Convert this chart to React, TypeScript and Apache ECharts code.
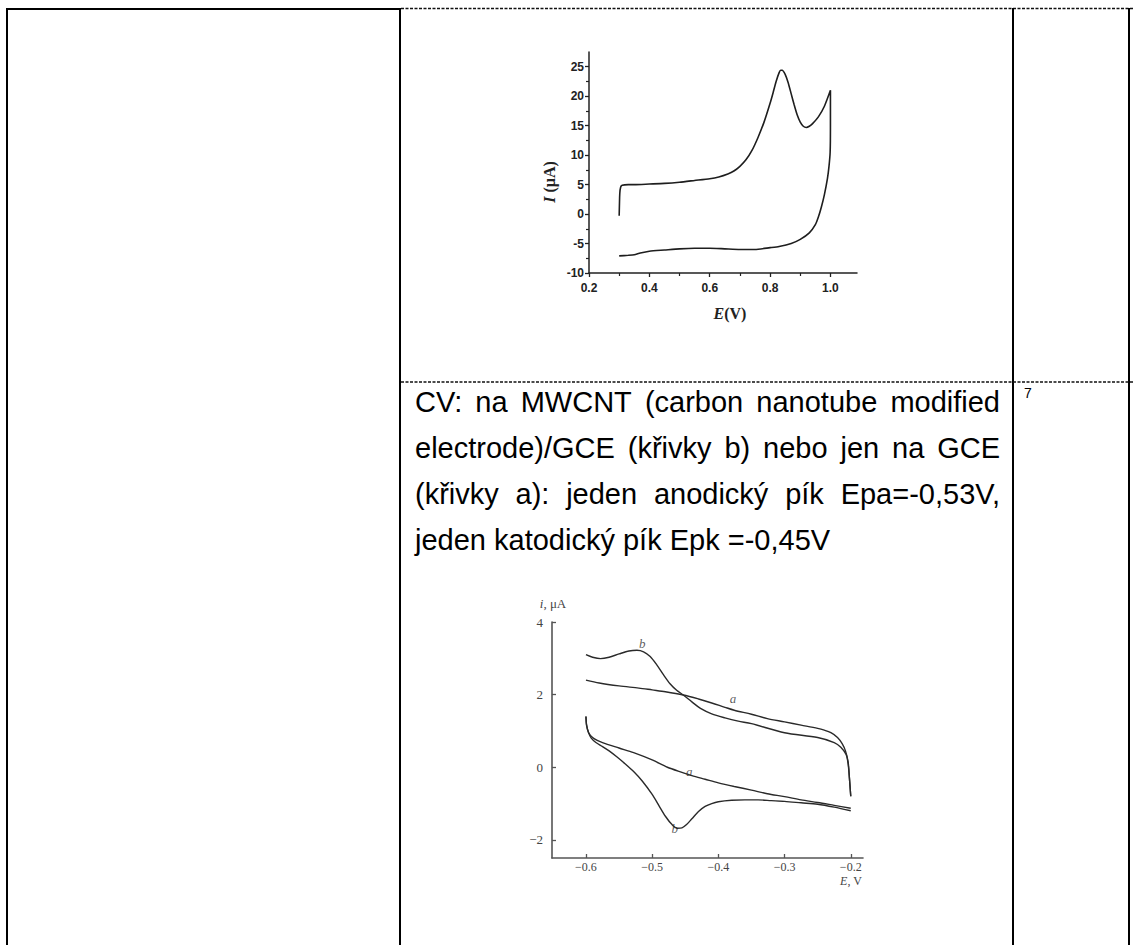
import React, { useEffect, useRef } from "react";
import * as echarts from "echarts";

// ---------- Chart 1 data (E / V, I / µA) ----------
const cv1Forward: number[][] = [
  [0.3, -0.3], [0.302, 3.5], [0.305, 4.6], [0.31, 4.9], [0.33, 5.0], [0.35, 5.0],
  [0.4, 5.1], [0.45, 5.2], [0.5, 5.4], [0.55, 5.7], [0.6, 6.0], [0.63, 6.3],
  [0.66, 6.8], [0.68, 7.3], [0.7, 8.1], [0.72, 9.2], [0.74, 10.8], [0.76, 13.0],
  [0.78, 15.6], [0.8, 18.8], [0.81, 20.6], [0.82, 22.5], [0.83, 24.0], [0.835, 24.4],
  [0.84, 24.4], [0.85, 23.7], [0.86, 22.3], [0.87, 20.4], [0.88, 18.5], [0.89, 16.8],
  [0.9, 15.6], [0.91, 14.9], [0.92, 14.7], [0.93, 14.9], [0.94, 15.3], [0.96, 16.5],
  [0.98, 18.3], [1.0, 21.0],
];
const cv1Reverse: number[][] = [
  [1.0, 15.0], [0.999, 10.5], [0.995, 8.0], [0.99, 6.0], [0.98, 3.3], [0.97, 1.2],
  [0.96, -0.5], [0.95, -1.8], [0.93, -3.2], [0.9, -4.3], [0.87, -5.0], [0.83, -5.5],
  [0.8, -5.7], [0.75, -6.0], [0.7, -6.0], [0.65, -5.9], [0.6, -5.8], [0.55, -5.8],
  [0.5, -5.9], [0.45, -6.1], [0.4, -6.3], [0.37, -6.6], [0.35, -6.9], [0.33, -7.0],
  [0.3, -7.1],
];
const cv1XTicks = [0.2, 0.4, 0.6, 0.8, 1.0];
const cv1XMinor = [0.3, 0.5, 0.7, 0.9];
const cv1YTicks = [-10, -5, 0, 5, 10, 15, 20, 25];
const cv1YMinor = [-7.5, -2.5, 2.5, 7.5, 12.5, 17.5, 22.5];

// ---------- Chart 2 data (E / V, i / µA) ----------
const cv2UpperB: number[][] = [
  [-0.6, 3.1], [-0.59, 3.03], [-0.578, 2.99], [-0.565, 3.03], [-0.55, 3.12],
  [-0.535, 3.2], [-0.523, 3.22], [-0.513, 3.18], [-0.503, 3.05], [-0.493, 2.82],
  [-0.483, 2.55], [-0.473, 2.3], [-0.463, 2.12], [-0.453, 1.99], [-0.44, 1.8],
  [-0.427, 1.62], [-0.41, 1.47], [-0.39, 1.36], [-0.37, 1.27], [-0.35, 1.2],
  [-0.3, 0.95], [-0.25, 0.82], [-0.225, 0.68], [-0.215, 0.55], [-0.207, 0.35],
  [-0.204, 0.1], [-0.202, -0.3], [-0.2, -0.8],
];
const cv2UpperA: number[][] = [
  [-0.6, 2.4], [-0.58, 2.32], [-0.55, 2.24], [-0.52, 2.18], [-0.5, 2.13],
  [-0.48, 2.08], [-0.453, 1.99], [-0.43, 1.88], [-0.41, 1.77], [-0.39, 1.65],
  [-0.376, 1.57], [-0.35, 1.46], [-0.326, 1.34], [-0.3, 1.25], [-0.275, 1.16],
  [-0.25, 1.07], [-0.24, 1.02], [-0.23, 0.95], [-0.22, 0.82], [-0.213, 0.65],
  [-0.208, 0.45], [-0.204, 0.15], [-0.202, -0.3], [-0.2, -0.8],
];
const cv2LowerA: number[][] = [
  [-0.6, 1.4], [-0.599, 1.15], [-0.596, 0.95], [-0.59, 0.82], [-0.583, 0.74],
  [-0.575, 0.68], [-0.55, 0.53], [-0.528, 0.4], [-0.5, 0.2], [-0.477, 0.0],
  [-0.455, -0.14], [-0.44, -0.23], [-0.42, -0.33], [-0.4, -0.43], [-0.376, -0.53],
  [-0.35, -0.63], [-0.326, -0.73], [-0.3, -0.81], [-0.275, -0.9], [-0.25, -0.97],
  [-0.225, -1.05], [-0.2, -1.13],
];
const cv2LowerB: number[][] = [
  [-0.6, 1.4], [-0.599, 1.15], [-0.596, 0.95], [-0.592, 0.8], [-0.585, 0.68],
  [-0.575, 0.57], [-0.565, 0.45], [-0.553, 0.28], [-0.54, 0.08], [-0.528, -0.12],
  [-0.515, -0.38], [-0.5, -0.75], [-0.49, -1.05], [-0.48, -1.35], [-0.47, -1.58],
  [-0.462, -1.68], [-0.455, -1.67], [-0.448, -1.58], [-0.44, -1.42], [-0.43, -1.22],
  [-0.42, -1.08], [-0.41, -1.0], [-0.4, -0.95], [-0.38, -0.91], [-0.36, -0.9],
  [-0.34, -0.9], [-0.32, -0.92], [-0.3, -0.94], [-0.275, -0.98], [-0.25, -1.02],
  [-0.225, -1.1], [-0.2, -1.2],
];
const cv2XTicks = [-0.6, -0.5, -0.4, -0.3, -0.2];
const cv2YTicks = [-2, 0, 2, 4];
const cv2CurveLabels: (string | number)[][] = [
  [-0.515, 3.42, "b"],
  [-0.378, 1.9, "a"],
  [-0.444, -0.12, "a"],
  [-0.466, -1.7, "b"],
];

// ---------- Document text ----------
const paragraphLines = [
  "CV: na MWCNT (carbon nanotube modified",
  "electrode)/GCE (křivky b) nebo jen na GCE",
  "(křivky a): jeden anodický pík Epa=-0,53V,",
  "jeden katodický pík Epk =-0,45V",
];
const footnoteNumber = "7";

const W = 1133;
const H = 945;
const PARA_FONT = 29;
const PARA_LEFT = 415;
const PARA_RIGHT = 1000;
const PARA_TOP = 402;
const PARA_STEP = 46;

const minus = (v: number) => String(v).replace("-", "\u2212");

function paragraphGraphics() {
  const canvas = document.createElement("canvas");
  const ctx = canvas.getContext("2d")!;
  const font = `${PARA_FONT}px "Liberation Sans", Arial, sans-serif`;
  ctx.font = font;
  const els: any[] = [];
  paragraphLines.forEach((line, li) => {
    const words = line.split(" ");
    const widths = words.map((w) => ctx.measureText(w).width);
    const total = widths.reduce((a, b) => a + b, 0);
    const last = li === paragraphLines.length - 1;
    const gap = last
      ? ctx.measureText(" ").width
      : (PARA_RIGHT - PARA_LEFT - total) / (words.length - 1);
    let x = PARA_LEFT;
    words.forEach((w, wi) => {
      els.push({
        type: "text",
        silent: true,
        style: {
          text: w,
          x,
          y: PARA_TOP + li * PARA_STEP,
          font,
          fill: "#000",
          align: "left",
          verticalAlign: "middle",
        },
      });
      x += widths[wi] + gap;
    });
  });
  return els;
}

function tableGraphics() {
  const solid = { stroke: "#000", lineWidth: 2 };
  const dashed = { stroke: "#111", lineWidth: 1.3, lineDash: [3, 1.5] };
  const ln = (x1: number, y1: number, x2: number, y2: number, style: any) => ({
    type: "line",
    silent: true,
    shape: { x1, y1, x2, y2 },
    style,
  });
  return [
    ln(6, 9, 401, 9, solid),
    ln(7, 8, 7, H, solid),
    ln(400, 8, 400, H, solid),
    ln(401, 8.5, W, 8.5, dashed),
    ln(1013, 8, 1013, H, solid),
    ln(1129, 8, 1129, H, solid),
    ln(401, 382, W, 382, dashed),
  ];
}

export default function App() {
  const ref = useRef<HTMLDivElement>(null);
  useEffect(() => {
    if (!ref.current) return;
    const chart = echarts.init(ref.current, null, { renderer: "svg", width: W, height: H });

    const sansBold = {
      fontFamily: '"Liberation Sans", Arial, sans-serif',
      fontWeight: "bold" as const,
      fontSize: 12,
      color: "#222",
    };
    const serif = {
      fontFamily: '"Liberation Serif", "Times New Roman", serif',
      fontSize: 13,
      color: "#444",
    };
    const ax1Line = { show: true, onZero: false, lineStyle: { color: "#222", width: 1.5 } };
    const ax2Line = { show: true, onZero: false, lineStyle: { color: "#555", width: 1.6 } };

    const option: any = {
      animation: false,
      backgroundColor: "#fff",
      grid: [
        { left: 589, top: 52, width: 268, height: 221, containLabel: false, outerBoundsMode: "none" },
        { left: 552, top: 622, width: 311, height: 236, containLabel: false, outerBoundsMode: "none" },
      ],
      xAxis: [
        {
          type: "value", gridIndex: 0, position: "bottom", min: 0.2, max: 1.088,
          axisLine: ax1Line,
          axisTick: { show: true, customValues: cv1XTicks, length: 4, inside: false, lineStyle: { color: "#222", width: 1.3 } },
          axisLabel: { customValues: cv1XTicks, margin: 9, formatter: (v: number) => v.toFixed(1), ...sansBold },
          splitLine: { show: false },
        },
        {
          type: "value", gridIndex: 0, position: "bottom", min: 0.2, max: 1.088,
          axisLine: { show: false, onZero: false },
          axisTick: { show: true, customValues: cv1XMinor, length: 3, inside: false, lineStyle: { color: "#222", width: 1.2 } },
          axisLabel: { show: false },
          splitLine: { show: false },
        },
        {
          type: "value", gridIndex: 1, position: "bottom", min: -0.6513, max: -0.1815,
          axisLine: ax2Line,
          axisTick: { show: true, customValues: cv2XTicks, length: 4, inside: true, lineStyle: { color: "#555", width: 1.3 } },
          axisLabel: { customValues: cv2XTicks, margin: 3, formatter: (v: number) => minus(Number(v.toFixed(1))), ...serif, fontSize: 12 },
          splitLine: { show: false },
        },
      ],
      yAxis: [
        {
          type: "value", gridIndex: 0, position: "left", min: -10, max: 27.5,
          axisLine: ax1Line,
          axisTick: { show: true, customValues: cv1YTicks, length: 4, inside: false, lineStyle: { color: "#222", width: 1.3 } },
          axisLabel: { customValues: cv1YTicks, margin: 5, ...sansBold },
          splitLine: { show: false },
        },
        {
          type: "value", gridIndex: 0, position: "left", min: -10, max: 27.5,
          axisLine: { show: false, onZero: false },
          axisTick: { show: true, customValues: cv1YMinor, length: 3, inside: false, lineStyle: { color: "#222", width: 1.2 } },
          axisLabel: { show: false },
          splitLine: { show: false },
        },
        {
          type: "value", gridIndex: 1, position: "left", min: -2.5, max: 4,
          axisLine: ax2Line,
          axisTick: { show: true, customValues: cv2YTicks, length: 4, inside: true, lineStyle: { color: "#555", width: 1.3 } },
          axisLabel: { customValues: cv2YTicks, margin: 9, formatter: (v: number) => minus(v), ...serif },
          splitLine: { show: false },
        },
      ],
      series: [
        {
          type: "line", xAxisIndex: 0, yAxisIndex: 0, showSymbol: false, smooth: 0.2,
          data: cv1Forward.concat(cv1Reverse),
          lineStyle: { color: "#1e1e1e", width: 1.6 },
        },
        ...[cv2UpperB, cv2UpperA, cv2LowerA, cv2LowerB].map((d) => ({
          type: "line", xAxisIndex: 2, yAxisIndex: 2, showSymbol: false, smooth: 0.3,
          data: d,
          lineStyle: { color: "#2a2a2a", width: 1.4 },
        })),
        {
          type: "scatter", xAxisIndex: 2, yAxisIndex: 2, symbolSize: 0,
          data: cv2CurveLabels.map((p) => ({ value: [p[0], p[1]], name: p[2] })),
          label: {
            show: true, position: "inside", formatter: (p: any) => p.name,
            fontFamily: '"Liberation Serif", serif', fontStyle: "italic", fontSize: 13, color: "#333",
          },
        },
      ],
      graphic: [
        ...tableGraphics(),
        {
          type: "text", silent: true,
          style: {
            text: footnoteNumber, x: 1024, y: 386, font: '14px "Liberation Sans", Arial, sans-serif',
            fill: "#000", align: "left", verticalAlign: "top",
          },
        },
        ...paragraphGraphics(),
        {
          type: "text", silent: true, x: 549, y: 182, rotation: Math.PI / 2,
          style: {
            text: "{i|I} (μA)", x: 0, y: 0, align: "center", verticalAlign: "middle",
            font: 'bold 16px "Liberation Serif", serif', fill: "#222",
            rich: { i: { fontStyle: "italic", fontWeight: "bold", fontSize: 16, fontFamily: '"Liberation Serif", serif', fill: "#222" } },
          },
        },
        {
          type: "text", silent: true,
          style: {
            text: "{i|E}(V)", x: 730, y: 313, align: "center", verticalAlign: "middle",
            font: 'bold 16px "Liberation Serif", serif', fill: "#222",
            rich: { i: { fontStyle: "italic", fontWeight: "bold", fontSize: 16, fontFamily: '"Liberation Serif", serif', fill: "#222" } },
          },
        },
        {
          type: "text", silent: true,
          style: {
            text: "{i|i}, μA", x: 553, y: 603, align: "center", verticalAlign: "middle",
            font: '13px "Liberation Serif", serif', fill: "#444",
            rich: { i: { fontStyle: "italic", fontSize: 13, fontFamily: '"Liberation Serif", serif', fill: "#444" } },
          },
        },
        {
          type: "text", silent: true,
          style: {
            text: "{i|E}, V", x: 851, y: 881, align: "center", verticalAlign: "middle",
            font: '12px "Liberation Serif", serif', fill: "#444",
            rich: { i: { fontStyle: "italic", fontSize: 12, fontFamily: '"Liberation Serif", serif', fill: "#444" } },
          },
        },
      ],
    };
    chart.setOption(option);
    return () => chart.dispose();
  }, []);
  return (
    <div
      ref={ref}
      style={{ position: "absolute", left: 0, top: 0, width: W, height: H, background: "#fff" }}
    />
  );
}
